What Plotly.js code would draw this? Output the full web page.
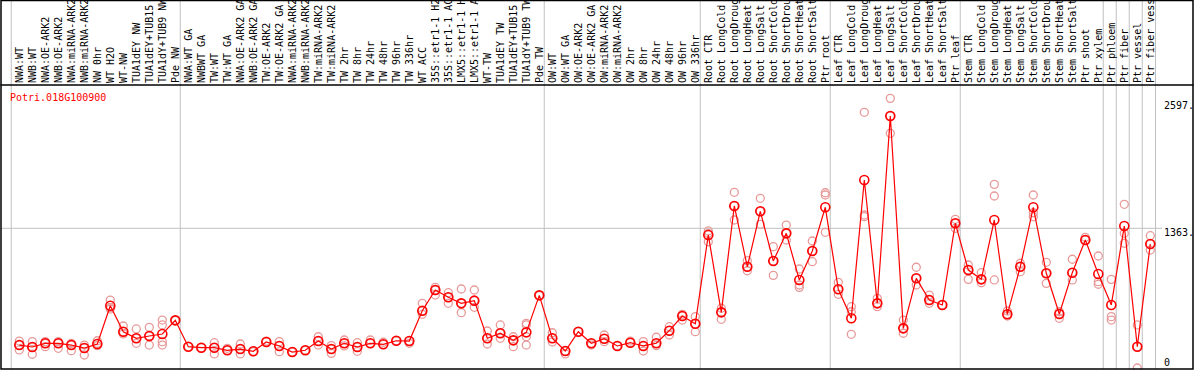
<!DOCTYPE html>
<html><head><meta charset="utf-8">
<script src="https://cdn.plot.ly/plotly-3.0.1.min.js"></script>
<style>html,body{margin:0;padding:0;background:#fff}#chart{width:1194px;height:370px}</style>
</head><body><div id="chart"></div>
<script>
const geneId = "Potri.018G100900";
const groupSizes = [13, 28, 12, 10, 10, 11, 1, 1, 1, 1];
const labels = [
 "NWA:WT","NWB:WT","NWA:OE-ARK2","NWB:OE-ARK2","NWA:miRNA-ARK2","NWB:miRNA-ARK2","NW 0hr","WT H2O","WT-NW","TUA1dEY NW","TUA1dEY+TUB15","TUA1dY+TUB9 NW","Pde NW",
 "NWA:WT GA","NWBWT GA","TW:WT","TW:WT GA","NWA:OE-ARK2 GA","NWB:OE-ARK2 GA","TW:OE-ARK2","TW:OE-ARK2 GA","NWA:miRNA-ARK2","NWB:miRNA-ARK2","TW:miRNA-ARK2","TW:miRNA-ARK2","TW 2hr","TW 8hr","TW 24hr","TW 48hr","TW 96hr","TW 336hr","WT ACC","35S::etr1-1 H2","35S::etr1-1 AC","LMX5::etr1-1 H","LMX5::etr1-1 A","WT-TW","TUA1dEY TW","TUA1dEY+TUB15","TUA1dY+TUB9 TW","Pde TW",
 "OW:WT","OW:WT GA","OW:OE-ARK2","OW:OE-ARK2 GA","OW:miRNA-ARK2","OW:miRNA-ARK2","OW 2hr","OW 8hr","OW 24hr","OW 48hr","OW 96hr","OW 336hr",
 "Root CTR","Root LongCold","Root LongDroug","Root LongHeat","Root LongSalt","Root ShortCold","Root ShortDrou","Root ShortHeat","Root ShortSalt","Ptr root",
 "Leaf CTR","Leaf LongCold","Leaf LongDroug","Leaf LongHeat","Leaf LongSalt","Leaf ShortCold","Leaf ShortDrou","Leaf ShortHeat","Leaf ShortSalt","Ptr leaf",
 "Stem CTR","Stem LongCold","Stem LongDroug","Stem LongHeat","Stem LongSalt","Stem ShortCold","Stem ShortDrou","Stem ShortHeat","Stem ShortSalt","Ptr shoot","Ptr xylem",
 "Ptr phloem","Ptr fiber","Ptr vessel","Ptr fiber vess"
];
const means = [
 224,205,241,241,224,195,234,608,354,290,312,332,465,
 208,198,198,173,185,163,254,215,156,173,263,185,241,205,241,231,266,263,559,761,690,631,657,290,339,270,348,709,
 290,166,354,241,286,215,247,215,241,364,507,432,
 1298,543,1581,988,1529,1044,1314,859,1142,1568,
 768,485,1834,631,2459,387,875,663,615,1412,
 956,865,1444,524,988,1568,924,527,930,1249,917,
 615,1385,208,1210
];
const reps = [
 [263,224,176],[257,205,134],[257,241,208],[257,241,192],[241,224,169],[224,195,127],[266,241,218],[663,590,575],[410,354,332],[381,290,241],[397,312,224],[468,420,257,224],[465,465],
 [208,208],[198,198],[247,198,137],[192,173],[234,185,137],[163,160],[254,263],[257,215,159],[156,156],[173,173],[305,263,224],[218,185,143],[273,241,215],[247,205,163],[273,241],[251,231],[266,266],[263,241],[631,559,524],[787,761,712],[735,690,631],[771,631,540],[761,657,592],[361,290,234],[420,339,290],[305,270,208],[436,420,305,224],[709,709],
 [344,290,254],[166,137],[354,354],[241,224],[322,286,257],[215,215],[247,263],[257,215,166],[300,241,218],[403,364,322],[524,507,468],[501,432,354],
 [1337,1314,1232],[583,543,475],[1714,1581,1444],[1047,988,949],[1656,1529,1402],[1184,1044,904],[1395,1314,1249],[966,810,787],[1239,1142,1037],[1710,1688,1324],
 [836,768,719],[598,549,329],[2495,1493,1476],[680,631,598],[2631,2459,2290],[468,387,339],[983,875,810],[712,663,631],[615,615],[1451,1412,1363],
 [1005,956,865],[930,865,832],[1792,1678,859],[556,524,507],[1022,988,940],[1688,1515,1476],[1031,924,826],[549,527,485],[1061,930,859],[1275,1249],[1093,842,817],
 [865,501,468],[1597,1314,1217],[420,208,0],[1291,1210,1151]
];
const yLabelVals = [2597, 1363, 0];
const yLabelText = ["2597.", "1363.", "0"];
const gridVal = 1363;

const idx = labels.map((_, i) => i);
const rx = [], ry = [];
reps.forEach((r, i) => r.forEach(v => { rx.push(i); ry.push(v); }));

// geometry
const W = 1194, H = 370, mL = 1, mR = 32, mT = 86, mB = 1;
const pw = W - mL - mR, ph = H - mT - mB;
const pxPer = 13, firstPx = 19.3;
const x0 = -(firstPx - mL) / pxPer, x1 = x0 + pw / pxPer;
const uPerPx = 9.757, zeroPx = 368;
const yTop = (zeroPx - mT) * uPerPx, yBot = yTop - ph * uPerPx;
const px2paperX = p => (p - mL) / pw;
const px2paperY = p => (H - mB - p) / ph;

const mono = "DejaVu Sans Mono, monospace";
const shapes = [];
// group separators
let start = 0;
groupSizes.forEach(n => {
  shapes.push({type:'line', xref:'x', yref:'paper', x0:start-0.62, x1:start-0.62, y0:0, y1:px2paperY(0), line:{color:'#c0c0c0', width:1}, layer:'below'});
  start += n;
});
shapes.push({type:'line', xref:'x', yref:'paper', x0:start-0.6, x1:start-0.6, y0:0, y1:px2paperY(0), line:{color:'#c0c0c0', width:1}, layer:'below'});
// horizontal grid line
shapes.push({type:'line', xref:'paper', yref:'y', x0:0, x1:1, y0:gridVal, y1:gridVal, line:{color:'#c0c0c0', width:1}, layer:'below'});
// header separator
shapes.push({type:'line', xref:'paper', yref:'paper', x0:px2paperX(0.5), x1:px2paperX(1193.5), y0:px2paperY(85), y1:px2paperY(85), line:{color:'#000', width:1.5}});
// border
shapes.push({type:'rect', xref:'paper', yref:'paper', x0:px2paperX(1), x1:px2paperX(1193), y0:px2paperY(369), y1:px2paperY(0.5), line:{color:'#000', width:1.5}});

const annotations = [{
  xref:'paper', yref:'paper', x:px2paperX(8), y:px2paperY(97), xanchor:'left', yanchor:'middle',
  text:geneId, showarrow:false, font:{family:mono, size:10, color:'#ff0000'}
}];
const yShifts = [-4, -4, 6];
yLabelVals.forEach((v, k) => annotations.push({
  xref:'paper', yref:'y', x:px2paperX(1162), y:v, xanchor:'left', yanchor:'middle', yshift:yShifts[k],
  text:yLabelText[k], showarrow:false, font:{family:mono, size:10, color:'#000'}
}));

const traces = [
  {x:rx, y:ry, type:'scatter', mode:'markers', hoverinfo:'skip',
   marker:{symbol:'circle-open', size:8, color:'#e89a9a', line:{width:1.3, color:'#e89a9a'}}, cliponaxis:false},
  {x:idx, y:means, type:'scatter', mode:'lines+markers',
   line:{color:'#ff0000', width:1.2},
   marker:{symbol:'circle-open', size:9, color:'#ff0000', line:{width:1.6, color:'#ff0000'}}}
];

const layout = {
  width:W, height:H, margin:{l:mL, r:mR, t:mT, b:mB, pad:0},
  paper_bgcolor:'#fff', plot_bgcolor:'#fff', showlegend:false,
  xaxis:{range:[x0, x1], side:'top', tickmode:'array', tickvals:idx, ticktext:labels, tickangle:-90,
         ticks:'', ticklabelstandoff:2, showgrid:false, zeroline:false, showline:false,
         tickfont:{family:mono, size:10, color:'#000'}, automargin:false, fixedrange:true},
  yaxis:{range:[yBot, yTop], showgrid:false, zeroline:false, showticklabels:false, ticks:'', showline:false, fixedrange:true},
  shapes:shapes, annotations:annotations
};
Plotly.newPlot('chart', traces, layout, {staticPlot:true, displayModeBar:false});
</script></body></html>
